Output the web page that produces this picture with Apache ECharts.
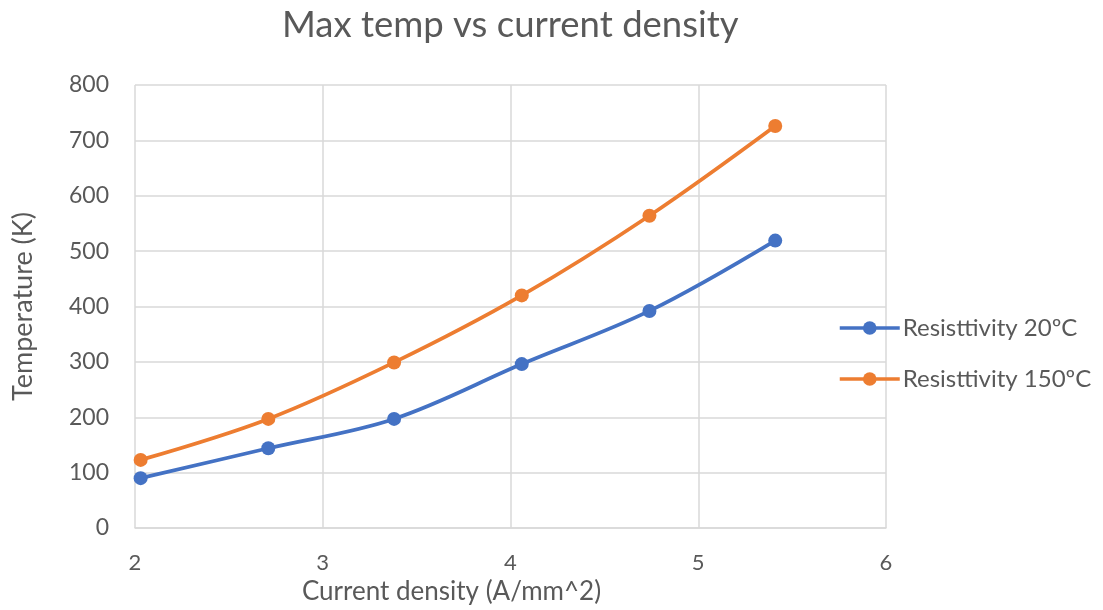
<!DOCTYPE html>
<html>
<head>
<meta charset="utf-8">
<script src="https://cdn.jsdelivr.net/npm/echarts@6/dist/echarts.min.js"></script>
<style>
  html, body { margin: 0; padding: 0; background: #fff; }
  #chart { width: 1103px; height: 610px; }
</style>
</head>
<body>
<div id="chart"></div>
<script>
// Current density (A/mm^2) at each simulated point
const currentDensity = [2.03, 2.71, 3.38, 4.06, 4.74, 5.41];
// Max temperature (K) for each resistivity case
const temp20C = [90, 144, 197, 296, 392, 519];
const temp150C = [123, 197, 299, 420, 564, 726];
const seriesNames = ['Resisttivity 20ºC', 'Resisttivity 150ºC'];

const FONT = 'Lato, "Noto Sans", sans-serif';
const TEXT = '#595959';
const GRID = '#D9D9D9';

const pairs = ys => currentDensity.map((x, i) => [x, ys[i]]);

const chart = echarts.init(document.getElementById('chart'), null, { renderer: 'canvas' });

function lineSeries(name, ys, color) {
  return {
    name: name,
    type: 'line',
    data: pairs(ys),
    smooth: 0.35,
    symbol: 'circle',
    symbolSize: 14,
    lineStyle: { color: color, width: 3.75 },
    itemStyle: { color: color },
    emphasis: { disabled: true }
  };
}

chart.setOption({
  animation: false,
  backgroundColor: '#fff',
  title: {
    text: 'Max temp vs current density',
    left: 277,
    top: 2,
    textStyle: { fontFamily: FONT, fontSize: 36.5, fontWeight: 'normal', color: TEXT }
  },
  legend: {
    orient: 'vertical',
    left: 833,
    top: 311,
    itemWidth: 60,
    itemHeight: 17,
    itemGap: 27,
    lineStyle: { width: 3.5 },
    textStyle: { fontFamily: FONT, fontSize: 24, color: TEXT, padding: [0, 0, 0, -2] },
    data: seriesNames
  },
  grid: { left: 135, right: 217, top: 85, bottom: 82, containLabel: false },
  xAxis: {
    type: 'value',
    min: 2,
    max: 6,
    interval: 1,
    name: 'Current density (A/mm^2)',
    nameLocation: 'middle',
    nameGap: 50,
    nameTextStyle: { fontFamily: FONT, fontSize: 26, color: TEXT, padding: [0, 118, 0, 0] },
    axisLine: { show: true, lineStyle: { color: GRID, width: 1.5 } },
    axisTick: { show: false },
    axisLabel: { fontFamily: FONT, fontSize: 22, color: TEXT, margin: 24 },
    splitLine: { show: true, lineStyle: { color: GRID, width: 1.5 } }
  },
  yAxis: {
    type: 'value',
    min: 0,
    max: 800,
    interval: 100,
    name: 'Temperature (K)',
    nameLocation: 'middle',
    nameGap: 98,
    nameRotate: 90,
    nameTextStyle: { fontFamily: FONT, fontSize: 27, color: TEXT },
    axisLine: { show: false },
    axisTick: { show: false },
    axisLabel: { fontFamily: FONT, fontSize: 23, color: TEXT, margin: 26 },
    splitLine: { show: true, lineStyle: { color: GRID, width: 1.5 } }
  },
  series: [
    lineSeries(seriesNames[0], temp20C, '#4472C4'),
    lineSeries(seriesNames[1], temp150C, '#ED7D31')
  ]
});
</script>
</body>
</html>
